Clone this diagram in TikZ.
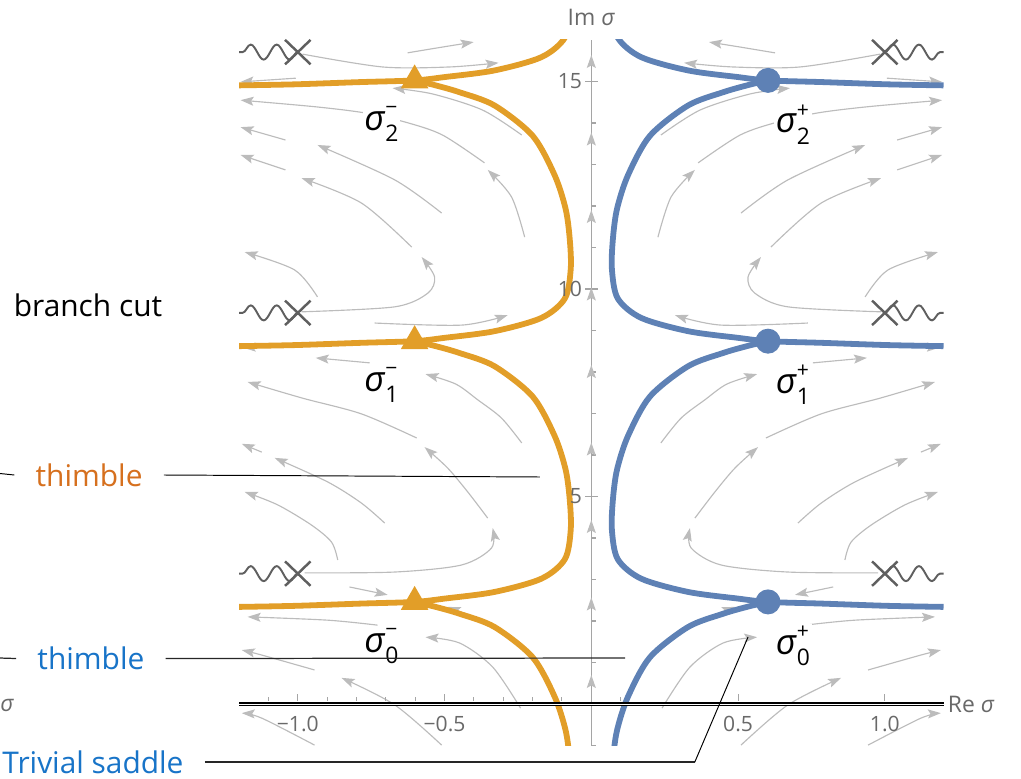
\documentclass[tikz,border=0pt]{standalone}
\usepackage{fontspec}
\setmainfont{Open Sans}
\usepackage{xcolor}
\usetikzlibrary{
    arrows.meta,
    shapes.geometric,
    shapes.misc,
    decorations.pathmorphing
}
\definecolor{thimbleorange}{RGB}{226,158,40}
\definecolor{thimbleblue}{RGB}{94,129,181}
\definecolor{noteorange}{RGB}{214,112,30}
\definecolor{noteblue}{RGB}{24,116,200}
\definecolor{streamgray}{RGB}{188,188,188}
\definecolor{axisgray}{RGB}{165,165,165}
\definecolor{tickgray}{RGB}{105,105,105}
\definecolor{cutgray}{RGB}{95,95,95}

% name of a saddle: sigma with index below and sign above
\newcommand{\saddlename}[2]{{\itshape σ}\hspace{0.02em}%
    \makebox[0pt][l]{\raisebox{0.45em}{\fontsize{12}{12}\selectfont #2}}%
    \raisebox{-0.32em}{\fontsize{13}{13}\selectfont #1}}

% stream lines of the right half plane (the left half is its mirror image)
\newcommand{\streamsright}{%
    \draw[stream] plot[smooth] coordinates {(0.626,15.69) (0.507,15.83) (0.401,15.95)};
    \draw[stream] plot[smooth] coordinates {(0.984,15.66) (0.711,15.35) (0.483,15.35) (0.316,15.45)};
    \draw[stream] (1.007,15.08) -- (1.195,14.99);
    \draw[stream] plot[smooth] coordinates {(0.237,13.71) (0.370,14.31) (0.541,14.70) (0.677,14.84)};
    \draw[stream] plot[smooth] coordinates {(0.227,11.25) (0.272,12.22) (0.353,12.87)};
    \draw[stream] plot[smooth] coordinates {(0.364,13.04) (0.507,13.71) (0.633,14.02) (0.769,14.24) (0.939,14.39) (1.195,14.55)};
    \draw[stream] plot[smooth] coordinates {(0.510,11.83) (0.670,12.63) (0.933,13.47)};
    \draw[stream] (1.042,13.59) -- (1.195,13.90);
    \draw[stream] plot[smooth] coordinates {(0.612,11.01) (0.783,12.07) (0.987,12.67)};
    \draw[stream] (1.042,12.87) -- (1.195,13.23);
    \draw[stream] plot[smooth] coordinates {(0.987,9.45) (0.670,9.57) (0.557,9.90) (0.534,10.29) (0.578,10.77)};
    \draw[stream] plot[smooth] coordinates {(0.933,9.81) (1.011,10.46) (1.181,10.89)};
    \draw[stream] plot[smooth] coordinates {(0.738,9.18) (0.442,9.13) (0.285,9.37)};
    \draw[stream] (1.018,8.63) -- (1.188,8.59);
    \draw[stream] (0.755,8.22) -- (0.939,8.34);
    \draw[stream] plot[smooth] coordinates {(0.237,6.29) (0.306,6.89) (0.387,7.33) (0.462,7.71) (0.565,7.95)};
    \draw[stream] plot[smooth] coordinates {(0.595,6.41) (0.783,6.99) (0.984,7.37) (1.171,7.76)};
    \draw[stream] plot[smooth] coordinates {(0.977,3.16) (0.670,3.18) (0.442,3.35) (0.340,3.76) (0.336,4.24)};
    \draw[stream] plot[smooth] coordinates {(0.353,4.48) (0.421,5.11) (0.490,5.69) (0.568,6.19)};
    \draw[stream] plot[smooth] coordinates {(0.864,3.47) (0.885,3.90) (0.953,4.31) (1.069,4.80) (1.181,5.11)};
    \draw[stream] plot[smooth] coordinates {(0.704,4.36) (0.783,4.84) (0.898,5.35) (1.079,5.93)};
    \draw[stream] (1.123,6.07) -- (1.191,6.27);
    \draw[stream] (0.824,2.82) -- (0.694,2.63);
    \draw[stream] plot[smooth] coordinates {(0.728,1.90) (0.898,2.02) (1.171,2.10)};
    \draw[stream] plot[smooth] coordinates {(0.241,-0.10) (0.336,0.89) (0.449,1.47) (0.565,1.61)};
    \draw[stream] plot[smooth] coordinates {(0.510,-0.99) (0.670,-0.02) (0.851,0.63)};
    \draw[stream] plot[smooth] coordinates {(0.943,0.82) (1.123,1.18) (1.191,1.30)};
    \draw[stream] plot[smooth] coordinates {(0.943,-0.99) (1.123,-0.34) (1.191,-0.22)};
    \draw[stream] (0.370,2.02) -- (0.490,2.34);
}

% one period of a thimble, from the right edge through a saddle up to the next one
\newcommand{\thimble}[1]{%
    \draw[#1] plot[smooth] coordinates {(1.2,-0.12) (1.011,-0.095) (0.784,-0.04) (0.602,0)
        (0.50,0.08) (0.33,0.24) (0.17,0.56) (0.09,1.03) (0.07,1.75) (0.074,2.5) (0.088,3.2)
        (0.125,4.0) (0.20,4.95) (0.33,5.68) (0.45,6.0) (0.534,6.17) (0.602,6.283)};
}

\begin{document}
\begin{tikzpicture}[
    x=5.87cm,
    y=0.83cm,
    stream/.style={draw=streamgray, line width=0.65pt,
        -{Stealth[length=0.26cm, width=0.18cm, inset=0.05cm]}},
    thimbleline/.style={line width=3.3pt},
    branchpt/.style={
        cross out,
        draw=cutgray,
        line width=1.4pt,
        minimum width=0.46cm,
        minimum height=0.44cm,
        inner sep=0pt
    },
    cut/.style={draw=cutgray, line width=1.1pt, decorate,
        decoration={snake, amplitude=0.15cm, segment length=0.52cm}},
    saddleminus/.style={regular polygon, regular polygon sides=3,
        fill=thimbleorange, minimum size=0.64cm, inner sep=0pt},
    saddleplus/.style={circle, fill=thimbleblue, minimum size=0.5cm, inner sep=0pt},
    saddlelabel/.style={font=\fontsize{20}{22}\selectfont, fill=white, inner sep=1pt},
    ticklabel/.style={text=tickgray, font=\fontsize{12}{14}\selectfont, inner sep=1.5pt},
    note/.style={font=\fontsize{17}{20}\selectfont, fill=white,
        inner xsep=0.42cm, inner ysep=2pt},
    lead/.style={draw=black!85, line width=0.7pt}
]

\useasboundingbox (-2.0147,-1.783) rectangle (1.464,16.964);

% Imaginary axis
\draw[axisgray, line width=0.8pt] (0,-1) -- (0,16);
\foreach \k in {-1,...,15}
    \draw[axisgray, line width=0.6pt] (0,\k) -- (0.015,\k);
\foreach \k in {5,10,15}
    \draw[axisgray, line width=0.6pt] (-0.02,\k) -- (0.024,\k);

% Stream lines
\streamsright
\begin{scope}[xscale=-1]
    \streamsright
\end{scope}
\foreach \i in {0,...,8}
    \draw[stream] (0,{0.5+1.8675*\i}) -- (0,{0.7+1.8675*\i});

% Thimbles
\begin{scope}
    \clip (-1.2,-1) rectangle (1.2,16);
    \foreach \n in {-1,...,2} {
        \thimble{thimbleline, thimbleblue, shift={(0,{2.46+6.2832*\n})}}
        \thimble{thimbleline, thimbleorange, xscale=-1, shift={(0,{2.46+6.2832*\n})}}
    }
\end{scope}

% Real axis
\draw[black, line width=0.04cm, double=white, double distance=0.018cm] (-1.2,0) -- (1.2,0);
\foreach \k in {-11,...,-1,1,...,11}
    \draw[axisgray, line width=0.6pt] ({\k/10},0.07) -- ({\k/10},0.17);
\foreach \k in {-10,-5,5,10}
    \draw[axisgray, line width=0.6pt] ({\k/10},0.07) -- ({\k/10},0.25);

% Branch points and cuts
\foreach \n in {0,1,2} {
    \node[branchpt] (bl\n) at (-1,{3.1416+6.2832*\n}) {};
    \node[branchpt] (br\n) at (1,{3.1416+6.2832*\n}) {};
    \draw[cut] (bl\n.center) -- (-1.2,{3.1416+6.2832*\n});
    \draw[cut] (br\n.center) -- (1.2,{3.1416+6.2832*\n});
}

% Saddles
\foreach \n in {0,1,2} {
    \node[saddleminus] (sm\n) at (-0.602,{2.46+6.2832*\n}) {};
    \node[saddleplus] (sp\n) at (0.602,{2.46+6.2832*\n}) {};
    \node[saddlelabel] (lm\n) at (-0.715,{1.40+6.2832*\n}) {\saddlename{\n}{−}};
    \node[saddlelabel] (lp\n) at (0.687,{1.40+6.2832*\n}) {\saddlename{\n}{+}};
}

% Tick labels
\foreach \v/\t/\nm in {-1/{−1.0}/a, -0.5/{−0.5}/b, 0.5/{0.5}/c, 1/{1.0}/d}
    \node[ticklabel, anchor=north] (xt\nm) at (\v,-0.22) {\t};
\foreach \v in {5,10,15}
    \node[ticklabel, anchor=east] (yt\v) at (-0.022,\v) {\v};
\node[ticklabel, font=\fontsize{13}{15}\selectfont, anchor=west] (reaxis) at (1.205,0) {Re \textit{σ}};
\node[ticklabel, font=\fontsize{13}{15}\selectfont] (imaxis) at (0,16.55) {Im \textit{σ}};
\node[ticklabel, font=\fontsize{13}{15}\selectfont] (edgesigma) at (-1.99,-0.04) {\textit{σ}};

% Notes
\node[font=\fontsize{17}{20}\selectfont] (cutnote) at (-1.7148,9.614) {branch cut};

\coordinate (thA-from) at (-2.0147,5.554);
\coordinate (thA-to) at (-0.175,5.47);
\node[note, text=noteorange] (thA) at (-1.711,5.518) {thimble};
\draw[lead, line width=0.55pt, black] (thA-from) -- (thA.west);
\draw[lead, line width=0.55pt, black] (thA.east) -- (thA-to);

\coordinate (thB-from) at (-2.0147,1.108);
\coordinate (thB-to) at (0.115,1.108);
\node[note, text=noteblue] (thB) at (-1.705,1.096) {thimble};
\draw[lead] (thB-from) -- (thB.west);
\draw[lead] (thB.east) -- (thB-to);

\coordinate (triv-bend) at (0.3525,-1.40);
\coordinate (triv-tip) at (0.534,1.614);
\node[note, text=noteblue, anchor=west] (trivial) at (-2.079,-1.40) {Trivial saddle};
\draw[lead] (trivial.east) -- (triv-bend);
\draw[lead, line width=0.55pt, black] (triv-bend) -- (triv-tip);

\end{tikzpicture}
\end{document}
